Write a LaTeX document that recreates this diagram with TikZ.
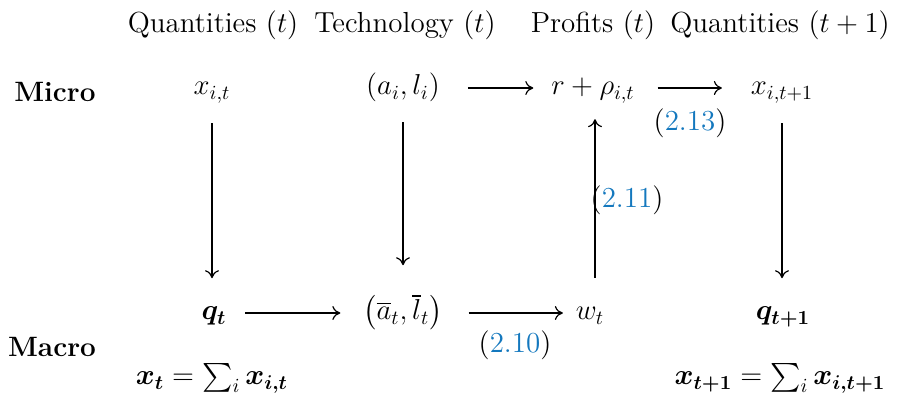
\documentclass[tikz,border=0pt]{standalone}
\usepackage{amsmath}
\usetikzlibrary{arrows.meta}
\definecolor{linkblue}{RGB}{20,120,190}
\newcommand{\eqr}[1]{(\textcolor{linkblue}{#1})}
\tikzset{
  every node/.style={inner sep=0pt, outer sep=0pt},
  elem/.style={anchor=base},
  head/.style={anchor=base},
  side/.style={font=\fontsize{14}{17}\selectfont\bfseries},
  eqlabel/.style={},
  arr/.style={line width=0.6pt, -{Computer Modern Rightarrow[length=4pt,width=7pt]}},
}
\begin{document}
\begin{tikzpicture}[x=0.5pt, y=-0.5pt, font=\fontsize{14.5}{17}\selectfont]
\useasboundingbox (0,0) rectangle (898,394);
% headers
\node[head] (h1) at (213,33) {Quantities ($t$)};
\node[head] (h2) at (405,33) {Technology ($t$)};
\node[head] (h3) at (593,33) {Profits ($t$)};
\node[head] (h4) at (780,33) {Quantities ($t+1$)};
% side labels
\node[side] (micro) at (55,92) {Micro};
\node[side] (macro) at (52,347) {Macro};
% micro row
\node[elem] (xit) at (212,95) {$x_{i,t}$};
\node[elem] (al) at (403,95) {$(a_i,l_i)$};
\node[elem] (rho) at (593,95) {$r+\rho_{i,t}$};
\node[elem] (xit1) at (782,95) {$x_{i,t+1}$};
% macro row
\node[elem] (qt) at (214,320) {$\boldsymbol{q_t}$};
\node[elem] (albar) at (403,320) {$\bigl(\overline{a}_t,\overline{l}_t\bigr)$};
\node[elem] (wt) at (590,320) {$w_t$};
\node[elem] (qt1) at (783,320) {$\boldsymbol{q_{t+1}}$};
% sums
\node (sum1) at (212,378) {$\boldsymbol{x_t}=\sum_i \boldsymbol{x_{i,t}}$};
\node (sum2) at (780,378) {$\boldsymbol{x_{t+1}}=\sum_i \boldsymbol{x_{i,t+1}}$};
% horizontal arrows
\draw[arr, shorten <=14pt, shorten >=9pt] ([yshift=3.5pt]al.base east) -- ([yshift=3.5pt]rho.base west);
\draw[arr, shorten <=11.5pt, shorten >=14.5pt] ([yshift=3.5pt]rho.base east) -- ([yshift=3.5pt]xit1.base west);
\draw[arr, shorten <=9.5pt, shorten >=11.5pt] ([yshift=3.5pt]qt.base east) -- ([yshift=3.5pt]albar.base west);
\draw[arr, shorten <=13pt, shorten >=6.5pt] ([yshift=3.5pt]albar.base east) -- ([yshift=3.5pt]wt.base west);
% vertical arrows
\draw[arr, shorten <=10pt, shorten >=14.5pt] (xit.south) -- (xit.south |- qt.north);
\draw[arr, shorten <=10pt, shorten >=14.5pt] (al.south) -- (al.south |- albar.north);
\draw[arr, shorten <=15pt, shorten >=8pt] ([xshift=2.5pt]wt.north) -- ([xshift=2.5pt]wt.north |- rho.south);
\draw[arr, shorten <=10pt, shorten >=14.5pt] (xit1.south) -- (xit1.south |- qt1.north);
% equation labels
\node[eqlabel] (e13) at (690,123) {\eqr{2.13}};
\node[eqlabel] (e11) at (627,200) {\eqr{2.11}};
\node[eqlabel] (e10) at (515,345) {\eqr{2.10}};
\end{tikzpicture}
\end{document}
